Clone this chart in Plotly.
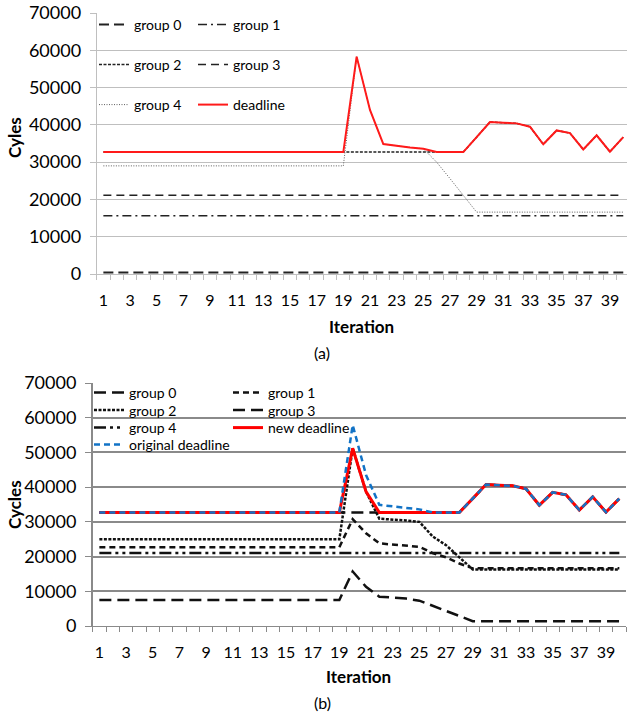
import plotly.graph_objects as go

# ---------------- data ----------------
iterations = list(range(1, 41))
tick_vals = list(range(1, 40, 2))
tick_text = [str(v) for v in tick_vals]

# (a) top chart
a_group0 = [400] * 40
a_group1 = [15600] * 40
a_group2 = [32700] * 28 + [36700, 40750, 40550, 40400, 39500, 34800, 38500, 37800, 33400, 37200, 32800, 36700]
a_group3 = [21100] * 40
a_group4 = [29000] * 19 + [58300, 44000, 34850, 34300, 33950, 33600, 30000, 25600, 21100, 16600] + [16600] * 11
a_deadline = [32700] * 19 + [58300, 44000, 34850, 34300, 33950, 33600, 32700, 32700, 32700,
                             36700, 40750, 40550, 40400, 39500, 34800, 38500, 37800, 33400, 37200, 32800, 36700]

# (b) bottom chart
b_group0 = [7500] * 19 + [15700, 11300, 8450, 8200, 7900, 7300, 5800, 4300, 2850, 1400] + [1400] * 11
b_group1 = [22700] * 19 + [30800, 26700, 23800, 23400, 23100, 22800, 21000, 19800, 18000, 16600] + [16600] * 11
b_group2 = [25000] * 19 + [51200, 38700, 30900, 30700, 30400, 30000, 25800, 23300, 19700, 16300] + [16300] * 11
b_group3 = [32700] * 28 + [36700, 40750, 40550, 40400, 39500, 34800, 38500, 37800, 33400, 37200, 32800, 36700]
b_group4 = [21000] * 40
b_new_deadline = [32700] * 19 + [51200, 38700, 32700, 32700, 32700, 32700, 32700, 32700, 32700,
                                 36700, 40750, 40550, 40400, 39500, 34800, 38500, 37800, 33400, 37200, 32800, 36700]
b_orig_deadline = [32700] * 19 + [57900, 43500, 34900, 34400, 34000, 33600, 32700, 32700, 32700,
                                  36700, 40750, 40550, 40400, 39500, 34800, 38500, 37800, 33400, 37200, 32800, 36700]

# ---------------- figure ----------------
W, H = 627, 715
FONT = "Lato"


def fx(p):
    return p / W


def fy(p):
    return 1 - p / H


fig = go.Figure()

top_specs = [
    ("group 0", a_group0, dict(color="#222222", width=2, dash="10px,5px"), "legend"),
    ("group 1", a_group1, dict(color="#222222", width=1.5, dash="9px,4px,2px,4px"), "legend"),
    ("group 2", a_group2, dict(color="#222222", width=1.5, dash="3px,1.5px"), "legend2"),
    ("group 3", a_group3, dict(color="#222222", width=1.5, dash="8px,5px"), "legend2"),
    ("group 4", a_group4, dict(color="#5e5e5e", width=1, dash="1px,1.5px"), "legend3"),
    ("deadline", a_deadline, dict(color="#ff1a1a", width=2), "legend3"),
]
for name, vals, line, lg in top_specs:
    fig.add_trace(go.Scatter(x=iterations, y=vals, name=name, mode="lines", line=line,
                             xaxis="x", yaxis="y", legend=lg))

bot_specs = [
    ("group 0", b_group0, dict(color="#111111", width=2.5, dash="12px,6px"), "legend4"),
    ("group 1", b_group1, dict(color="#111111", width=2.5, dash="6px,4px"), "legend4"),
    ("group 2", b_group2, dict(color="#111111", width=2.5, dash="3px,1.5px"), "legend5"),
    ("group 3", b_group3, dict(color="#111111", width=2.5, dash="12px,6px"), "legend5"),
    ("group 4", b_group4, dict(color="#111111", width=2.5, dash="12px,4px,3px,4px,3px,4px"), "legend6"),
    ("new deadline", b_new_deadline, dict(color="#ff0000", width=3), "legend6"),
    ("original deadline", b_orig_deadline, dict(color="#1273c6", width=2.5, dash="6px,4px"), "legend7"),
]
for name, vals, line, lg in bot_specs:
    fig.add_trace(go.Scatter(x=iterations, y=vals, name=name, mode="lines", line=line,
                             xaxis="x2", yaxis="y2", legend=lg))

top_grey = "#bfbfbf"
bot_grey = "#8a8a8a"


def xaxis_cfg(dom, rng, col, anchor):
    return dict(domain=dom, range=rng, anchor=anchor, tickmode="array", tickvals=tick_vals,
                ticktext=tick_text, ticks="", showgrid=False, zeroline=False, showline=True,
                linecolor=col, linewidth=1, tickfont=dict(size=16, family=FONT, color="#000"),
                ticklabelstandoff=12, ticklabeloverflow="allow",
                minor=dict(ticks="outside", tick0=0.5, dtick=1, ticklen=5, tickcolor=col,
                           tickwidth=1, showgrid=False))


def yaxis_cfg(dom, col, anchor, gw):
    return dict(domain=dom, range=[0, 70000], anchor=anchor, dtick=10000, tick0=0,
                tickformat="d", showgrid=True, gridcolor=col, gridwidth=gw, zeroline=False,
                showline=True, linecolor=col, linewidth=gw, ticks="outside", ticklen=6,
                tickcolor=col, tickfont=dict(size=18, family=FONT, color="#000"),
                ticklabelstandoff=5, ticklabeloverflow="allow")


leg_common = dict(orientation="h", xanchor="left", yanchor="middle", bgcolor="rgba(0,0,0,0)",
                  font=dict(size=14, family=FONT, color="#000"), borderwidth=0,
                  traceorder="normal", entrywidthmode="pixels")

layout = dict(
    width=W, height=H, autosize=False, template="none",
    margin=dict(l=0, r=0, t=0, b=0),
    paper_bgcolor="white", plot_bgcolor="white",
    font=dict(family=FONT, color="#000"),
    xaxis=xaxis_cfg([fx(96.7), 1.0], [0.5, 40.28], top_grey, "y"),
    yaxis=yaxis_cfg([fy(274), fy(13)], top_grey, "x", 1),
    xaxis2=xaxis_cfg([fx(92.7), fx(626)], [0.5, 40.5], bot_grey, "y2"),
    yaxis2=yaxis_cfg([fy(626), fy(383)], bot_grey, "x2", 1.5),
    legend=dict(leg_common, x=fx(94), y=fy(25), entrywidth=54),
    legend2=dict(leg_common, x=fx(94), y=fy(65), entrywidth=54),
    legend3=dict(leg_common, x=fx(94), y=fy(105), entrywidth=54),
    legend4=dict(leg_common, x=fx(89), y=fy(393), entrywidth=94),
    legend5=dict(leg_common, x=fx(89), y=fy(410.5), entrywidth=94),
    legend6=dict(leg_common, x=fx(89), y=fy(428), entrywidth=94),
    legend7=dict(leg_common, x=fx(89), y=fy(445), entrywidth=160),
    showlegend=True,
)
fig.update_layout(**layout)

annos = [
    dict(text="<b>Cyles</b>", x=fx(15), y=fy(138), textangle=-90, font=dict(size=17)),
    dict(text="<b>Iteration</b>", x=fx(361), y=fy(326), font=dict(size=17)),
    dict(text="(a)", x=fx(322), y=fy(352), font=dict(size=16)),
    dict(text="<b>Cycles</b>", x=fx(15), y=fy(505), textangle=-90, font=dict(size=17)),
    dict(text="<b>Iteration</b>", x=fx(359), y=fy(676), font=dict(size=17)),
    dict(text="(b)", x=fx(322), y=fy(702), font=dict(size=16)),
]
for a in annos:
    fig.add_annotation(xref="paper", yref="paper", showarrow=False, xanchor="center",
                       yanchor="middle", **a)

# hide the toolbar, and remove the browser's default page margin so the chart sits at the corner
fig.write_html("out.html", config={"displayModeBar": False},
               post_script="document.body.style.margin='0px';")
